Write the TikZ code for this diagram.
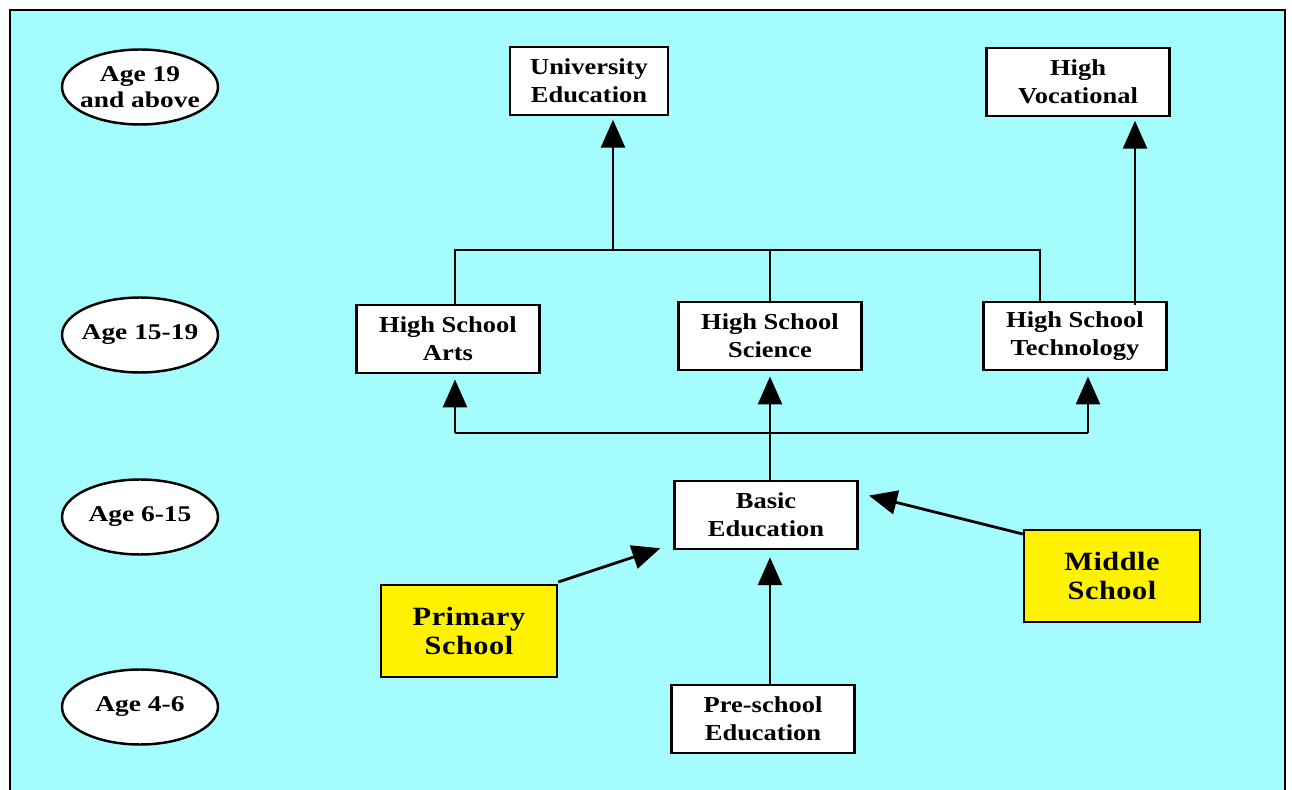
\documentclass[tikz,border=0pt]{standalone}
\usepackage{fontspec}
\setmainfont{Liberation Serif}
\newfontfamily\widefont[FakeStretch=1.16]{Liberation Serif}
\newfontfamily\agefont[FakeStretch=1.22]{Liberation Serif}
\newfontfamily\yellowfont[FakeStretch=1.15, LetterSpace=2]{Liberation Serif}
\usetikzlibrary{arrows.meta,shapes.geometric}
\definecolor{skyfill}{RGB}{164,252,252}
\definecolor{schoolyellow}{RGB}{255,242,0}
\begin{document}
\begin{tikzpicture}[x=0.02cm, y=-0.02cm,
    box/.style={draw, line width=1.4pt, fill=white, align=center,
      font=\widefont\bfseries\fontsize{13}{16}\selectfont,
      minimum width=3.66cm, minimum height=1.36cm, inner sep=2pt},
    agebox/.style={ellipse, draw, line width=1.4pt, fill=white, align=center,
      font=\agefont\bfseries\fontsize{12.8}{14.5}\selectfont,
      minimum width=3.12cm, minimum height=1.5cm, inner xsep=-0.25cm, inner ysep=0pt},
    schoolbox/.style={box, fill=schoolyellow,
      font=\yellowfont\bfseries\fontsize{15}{17}\selectfont,
      minimum width=3.52cm, minimum height=1.84cm},
    link/.style={line width=1.6pt},
    up/.style={link, -{Triangle[length=0.56cm, width=0.48cm]}}]
    \useasboundingbox (0,0) rectangle (1292,790);
    % frame
    \draw[fill=skyfill, line width=1.6pt] (10,10) rectangle (1285,800);

    % age column
    \node[agebox] (age19) at (140,87) {Age 19\\and above};
    \node[agebox] (age15) at (140,335) {Age 15-19};
    \node[agebox] (age6) at (140,517) {Age 6-15};
    \node[agebox] (age4) at (140,707) {Age 4-6};

    % schools
    \node[box, minimum width=3.16cm] (uni) at (589,81) {University\\Education};
    \node[box] (voc) at (1078,82) {High\\Vocational};
    \node[box] (arts) at (448,339) {High School\\Arts};
    \node[box] (sci) at (770,336) {High School\\Science};
    \node[box] (tech) at (1075,336) {High School\\Technology};
    \node[box] (basic) at (766,515) {Basic\\Education};
    \node[box] (pre) at (763,719) {Pre-school\\Education};
    \node[schoolbox] (prim) at (469,631) {Primary\\School};
    \node[schoolbox] (mid) at (1112,576) {Middle\\School};

    % upper bus
    \coordinate (ul) at (455,250); \coordinate (ur) at (1040,250);
    \coordinate (um) at (613,250); \coordinate (vx) at (1135,305);
    \draw[link] (ul |- arts.north) -- (ul) -- (ur) -- (ur |- tech.north);
    \draw[link] (sci.north) -- (sci.north |- ul);
    \draw[up, shorten >=2pt] (um) -- (um |- uni.south);
    \draw[up, shorten >=2pt] (vx) -- (vx |- voc.south);

    % lower bus
    \coordinate (ll) at (455,433); \coordinate (lr) at (1088,433);
    \draw[link] (ll) -- (lr);
    \draw[up, shorten >=3pt] (ll) -- (ll |- arts.south);
    \draw[up, shorten >=3pt] (lr) -- (lr |- tech.south);
    \draw[up, shorten >=3pt] (basic.north -| sci.south) -- (sci.south);

    % into basic education
    \draw[up, shorten >=4pt] (pre.north -| sci.south) -- (basic.south -| sci.south);
    \draw[up] ([yshift=1pt]prim.north east) -- ([xshift=-0.26cm, yshift=0.04cm]basic.south west);
    \draw[up, shorten >=6pt] ([yshift=-3pt]mid.north west) -- ([yshift=0.44cm]basic.east);
\end{tikzpicture}
\end{document}
